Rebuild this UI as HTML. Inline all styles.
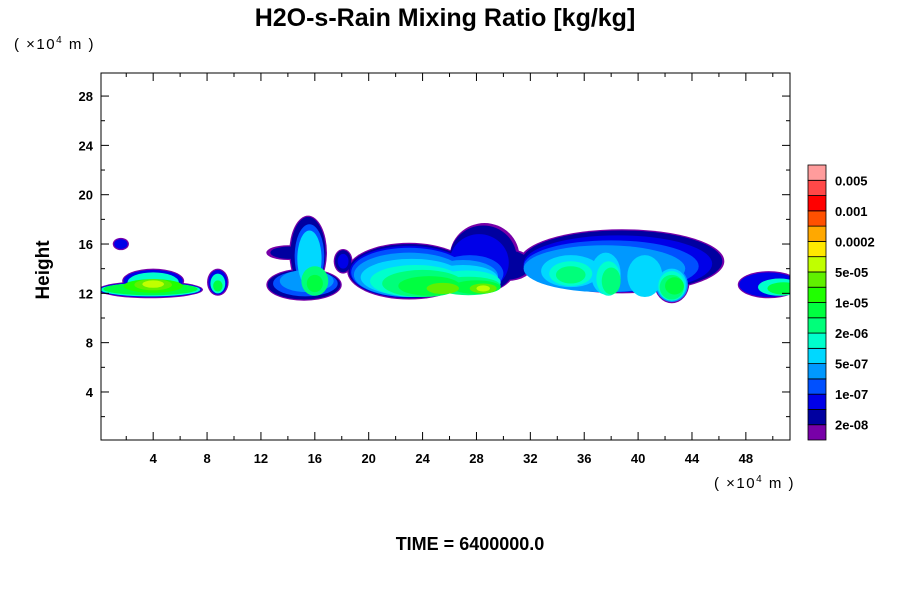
<!DOCTYPE html>
<html><head><meta charset="utf-8"><style>body{margin:0;background:#fff}svg{display:block}text{font-family:"Liberation Sans",sans-serif}</style></head>
<body>
<svg id="chart" width="900" height="600" viewBox="0 0 900 600">
<text x="445" y="26" font-size="25" font-weight="bold" text-anchor="middle">H2O-s-Rain Mixing Ratio [kg/kg]</text>
<text x="14" y="49" font-size="15" letter-spacing="1.5">( ×10<tspan font-size="10" dy="-6">4</tspan><tspan dy="6">  m )</tspan></text>
<text x="714" y="488" font-size="15" letter-spacing="1.5">( ×10<tspan font-size="10" dy="-6">4</tspan><tspan dy="6">  m )</tspan></text>
<text x="0" y="0" font-size="19" font-weight="bold" text-anchor="middle" transform="translate(49,270) rotate(-90)">Height</text>
<text x="470" y="550" font-size="18" font-weight="bold" text-anchor="middle">TIME = 6400000.0</text>
<defs><clipPath id="pc"><rect x="101" y="73" width="689" height="367"/></clipPath></defs>
<g id="field" clip-path="url(#pc)"></g>
<g id="axes"></g>
<g id="cbar"></g>
</svg>
<script>
const colors=["#7800a8","#0000a0","#0000e8","#0050ff","#0098ff","#00d8ff","#00ffcc","#00ff7a","#00ff40","#20ff00","#60f000","#c0ff00","#ffe800","#ffa800","#ff5000","#ff0000","#ff4848","#ff9c9c"];
const cbarLabels=["2e-08","1e-07","5e-07","2e-06","1e-05","5e-05","0.0002","0.001","0.005"];
const xTicks=[4,8,12,16,20,24,28,32,36,40,44,48];
const yTicks=[4,8,12,16,20,24,28];
// cells: [cx, cy, rx, ry, level] in data units (1e4 m)
const cells=[
[3.8,12.3,3.9,0.7,0],[4,13,2.3,1.0,0],[3.8,12.3,3.8,0.62,2],[4,13,2.2,0.9,2],[3.8,12.3,3.7,0.55,6],[4,12.9,1.9,0.8,6],[3.8,12.35,3.5,0.5,8],[4,12.6,2.2,0.55,9],[4,12.7,1.4,0.45,10],[4,12.75,0.8,0.3,11],
[1.6,16,0.6,0.5,0],[1.6,16,0.5,0.4,2],
[8.8,12.9,0.8,1.1,0],[8.8,12.9,0.7,1,2],[8.8,12.8,0.55,0.8,6],[8.8,12.6,0.35,0.45,8],
[15.2,12.7,2.8,1.3,0],[15.5,15.3,1.4,3,0],[14,15.3,1.6,0.6,0],
[15.2,12.7,2.7,1.2,1],[15.5,15.3,1.3,2.9,1],[14.1,15.3,1.4,0.5,1],
[15.3,12.8,2.4,1.05,3],[15.6,15,1.1,2.6,3],
[15.4,13,2,0.9,4],[15.6,14.8,0.9,2.3,5],[16,13,1,1.2,7],[16,12.8,0.6,0.7,8],
[18.1,14.6,0.7,1,0],[18.1,14.6,0.6,0.9,1],[18.1,14.6,0.4,0.6,2],
[23,13.8,4.6,2.3,0],[28.6,14.9,2.6,2.8,0],[30.3,14.3,1.9,1.3,0],
[23,13.8,4.5,2.2,1],[28.5,14.8,2.5,2.7,1],[30.2,14.3,1.8,1.2,1],
[23,13.75,4.4,2.1,2],[28.2,14.5,2.2,2.3,2],
[23,13.7,4.3,2.0,3],[27.5,13.6,2.5,1.5,3],
[23,13.5,4.1,1.8,4],[27,13.4,2.6,1.3,4],
[23.2,13.3,3.8,1.5,5],[27,13.2,2.6,1.1,5],
[23.5,13,3.4,1.3,6],[27.3,12.9,2.5,0.95,6],
[24,12.8,3,1.1,7],[27.4,12.6,2.4,0.75,7],
[24.5,12.6,2.3,0.8,8],[28,12.5,1.8,0.55,8],
[25.5,12.4,1.2,0.45,10],[28.5,12.4,1,0.4,10],[28.5,12.4,0.5,0.25,11],
[38.8,14.6,7.6,2.6,0],[42.5,12.8,1.3,1.6,0],[38.8,14.6,7.45,2.5,1],[38.5,14.4,7,2.3,2],[38,14.2,6.5,2.1,3],
[37.5,14,6,1.9,4],[42.5,12.7,1.2,1.4,4],
[35,13.8,2.2,1.3,5],[37.6,13.6,1.1,1.7,5],[40.5,13.4,1.3,1.7,5],[42.5,12.7,1.1,1.3,5],
[35,13.6,1.6,1,6],[37.8,13.2,0.9,1.4,6],[42.5,12.6,1,1.2,6],
[35,13.5,1.1,0.7,7],[38,13,0.7,1.1,7],[42.5,12.5,0.9,1,7],[42.7,12.6,0.7,0.7,8],
[49.7,12.7,2.3,1.1,0],[49.7,12.7,2.2,1,2],[50.5,12.5,1.6,0.7,6],[50.8,12.4,1.2,0.5,8]
];
const NS="http://www.w3.org/2000/svg";
const X0=101,X1=790,Y0=73,Y1=440;
function xs(v){return 99.3+v*13.47;}
function ys(v){return 441.3-v*12.33;}
function mk(tag,attrs,parent){const e=document.createElementNS(NS,tag);for(const k in attrs)e.setAttribute(k,attrs[k]);parent.appendChild(e);return e;}
const field=document.getElementById('field');
const sorted=cells.map((c,i)=>[c,i]).sort((a,b)=>a[0][4]-b[0][4]||a[1]-b[1]);
sorted.forEach(([c])=>{
 const e=mk('ellipse',{cx:xs(c[0]),cy:ys(c[1]),rx:c[2]*13.47,ry:c[3]*12.33,fill:colors[c[4]]},field);
 
 
});
const ax=document.getElementById('axes');
const fr=mk('rect',{x:X0,y:Y0,width:X1-X0,height:Y1-Y0,fill:'none',stroke:'#000','stroke-width':1},ax);


for(let v=2;v<=50;v+=2){const L=v%4===0?8:4;const x=xs(v);
 mk('line',{x1:x,y1:Y1,x2:x,y2:Y1-L,stroke:'#000'},ax);mk('line',{x1:x,y1:Y0,x2:x,y2:Y0+L,stroke:'#000'},ax);}
for(let v=2;v<=28;v+=2){const L=v%4===0?8:4;const y=ys(v);
 mk('line',{x1:X0,y1:y,x2:X0+L,y2:y,stroke:'#000'},ax);mk('line',{x1:X1,y1:y,x2:X1-L,y2:y,stroke:'#000'},ax);}
xTicks.forEach(v=>{const t=mk('text',{x:xs(v),y:463,'font-size':13,'font-weight':'bold','text-anchor':'middle'},ax);t.textContent=v;
 
 });
yTicks.forEach(v=>{const t=mk('text',{x:93,y:ys(v)+5,'font-size':13,'font-weight':'bold','text-anchor':'end'},ax);t.textContent=v;
 
 });
const cb=document.getElementById('cbar');
const bh=(440-165)/colors.length;
colors.forEach((c,i)=>{const r=mk('rect',{x:808,y:440-(i+1)*bh,width:18,height:bh,fill:c,stroke:'#000','stroke-width':0.8},cb);
 
 });
cbarLabels.forEach((s,i)=>{const y=440-(2*i+1)*bh;const t=mk('text',{x:835,y:y+5,'font-size':13,'font-weight':'bold'},cb);t.textContent=s;
 
 });
</script>
</body></html>
